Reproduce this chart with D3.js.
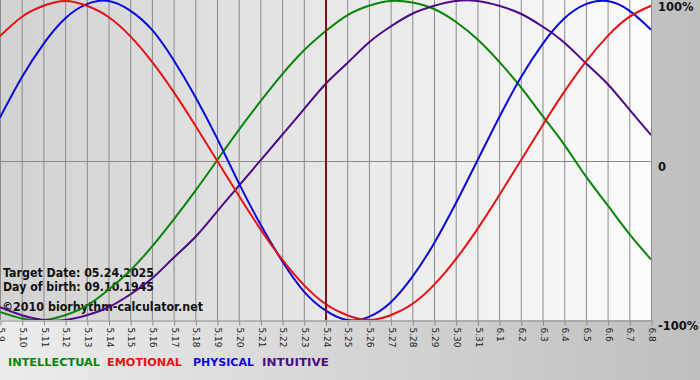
<!DOCTYPE html>
<html>
<head>
<meta charset="utf-8">
<script src="https://cdn.jsdelivr.net/npm/d3@7"></script>
<style>
  html, body { margin: 0; padding: 0; background: #fff; }
  svg { display: block; }
</style>
</head>
<body>
<div id="chart"></div>
<script>
// days shown, 5.9 .. 6.8
const days = ["5.9", "5.10", "5.11", "5.12", "5.13", "5.14", "5.15", "5.16", "5.17", "5.18", "5.19", "5.20", "5.21", "5.22", "5.23", "5.24",
  "5.25", "5.26", "5.27", "5.28", "5.29", "5.30", "5.31", "6.1", "6.2", "6.3", "6.4", "6.5", "6.6", "6.7", "6.8"];
const targetDay = "5.24";

// values, -1 .. 1
const physical = [0.27, 0.52, 0.73, 0.89, 0.98, 1.0, 0.94, 0.82, 0.63, 0.4, 0.14, -0.14, -0.4, -0.63, -0.82, -0.94,
  -1.0, -0.98, -0.89, -0.73, -0.52, -0.27, 0, 0.27, 0.52, 0.73, 0.89, 0.98, 1.0, 0.94, 0.82];
const emotional = [0.78, 0.9, 0.97, 1.0, 0.97, 0.9, 0.78, 0.62, 0.43, 0.22, 0, -0.22, -0.43, -0.62, -0.78, -0.9,
  -0.97, -1.0, -0.97, -0.9, -0.78, -0.62, -0.43, -0.22, 0, 0.22, 0.43, 0.62, 0.78, 0.9, 0.97];
const intellectual = [-0.95, -0.99, -1.0, -0.97, -0.91, -0.81, -0.69, -0.54, -0.37, -0.19, 0, 0.19, 0.37, 0.54, 0.69, 0.81,
  0.91, 0.97, 1.0, 0.99, 0.95, 0.87, 0.76, 0.62, 0.46, 0.28, 0.1, -0.1, -0.28, -0.46, -0.62];
const intuitive = [-0.92, -0.97, -1.0, -1.0, -0.97, -0.92, -0.84, -0.74, -0.61, -0.48, -0.32, -0.16, 0, 0.16, 0.32, 0.48,
  0.61, 0.74, 0.84, 0.92, 0.97, 1.0, 1.0, 0.97, 0.92, 0.84, 0.74, 0.61, 0.48, 0.32, 0.16];

const yTicks = [1, 0, -1];
const yTickLabels = ["100%", "0", "-100%"];

const seriesNames = ["INTELLECTUAL", "EMOTIONAL", "PHYSICAL", "INTUITIVE"];
const infoLines = ["Target Date: 05.24.2025", "Day of birth: 09.10.1945"];
const copyright = "©2010 biorhythm-calculator.net";

const colors = {
  INTELLECTUAL: "#0a850a",
  EMOTIONAL: "#e41212",
  PHYSICAL: "#0a0ad8",
  INTUITIVE: "#4e0a86",
};

const width = 700, height = 380,
  plotW = 651, plotTop = 1, plotBottom = 320;

const svg = d3.select("#chart").append("svg").attr("width", width).attr("height", height);

const defs = svg.append("defs");
const bg = defs.append("linearGradient").attr("id", "bg").attr("x1", 0).attr("x2", 1).attr("y1", 0).attr("y2", 0);
bg.append("stop").attr("offset", 0).attr("stop-color", "#ececec");
bg.append("stop").attr("offset", 1).attr("stop-color", "#bfbfbf");
const pg = defs.append("linearGradient").attr("id", "pg").attr("x1", 0).attr("x2", 1).attr("y1", 0).attr("y2", 0);
pg.append("stop").attr("offset", 0).attr("stop-color", "#d2d2d2");
pg.append("stop").attr("offset", 1).attr("stop-color", "#fcfcfc");
defs.append("clipPath").attr("id", "clip").append("rect").attr("x", 0).attr("y", 0).attr("width", plotW).attr("height", plotBottom);

svg.append("rect").attr("width", width).attr("height", height).attr("fill", "url(#bg)");
svg.append("rect").attr("x", 0).attr("y", 0).attr("width", plotW).attr("height", plotBottom).attr("fill", "url(#pg)");

const x = d3.scalePoint().domain(days).range([0, plotW]);
const y = d3.scaleLinear().domain([-1, 1]).range([plotBottom, plotTop]);

// grid
const grid = svg.append("g");
grid.selectAll("line.v").data(days).enter().append("line").attr("class", "v")
  .attr("x1", (d) => x(d) + 0.5).attr("x2", (d) => x(d) + 0.5)
  .attr("y1", 0).attr("y2", plotBottom)
  .attr("stroke", "#8a8a8a").attr("stroke-width", 1);
grid.append("line").attr("x1", 0).attr("x2", plotW).attr("y1", Math.round(y(0)) + 0.5).attr("y2", Math.round(y(0)) + 0.5)
  .attr("stroke", "#8a8a8a");

// bottom axis
const axis = svg.append("g").attr("transform", `translate(0.5,${plotBottom + 0.5})`)
  .call(d3.axisBottom(x).tickSize(5).tickSizeOuter(0));
axis.select(".domain").attr("stroke", "#8a8a8a");
axis.selectAll(".tick line").attr("stroke", "#8a8a8a");
axis.selectAll(".tick text")
  .attr("transform", "rotate(90)")
  .attr("text-anchor", "start")
  .attr("x", 7).attr("y", 0).attr("dy", "0.32em")
  .style("font-family", "Tahoma, 'DejaVu Sans', sans-serif")
  .style("font-size", "9px")
  .attr("fill", "#222");

// info texts
const info = svg.append("g").style("font-family", "'DejaVu Sans', sans-serif").style("font-weight", "bold").attr("fill", "#111");
info.selectAll("text").data(infoLines).enter().append("text")
  .attr("x", 3).attr("y", (d, i) => 277 + i * 14)
  .attr("font-size", 11.5)
  .attr("textLength", 151).attr("lengthAdjust", "spacingAndGlyphs")
  .text((d) => d);
info.append("text").attr("x", 2).attr("y", 311).attr("font-size", 12.5)
  .attr("textLength", 201).attr("lengthAdjust", "spacingAndGlyphs")
  .text(copyright);

// curves
const line = d3.line().x((d, i) => x(days[i])).y((d) => y(d)).curve(d3.curveNatural);
const curves = svg.append("g").attr("clip-path", "url(#clip)");
const seriesData = [intellectual, intuitive, physical, emotional];
const seriesKeys = ["INTELLECTUAL", "INTUITIVE", "PHYSICAL", "EMOTIONAL"];
curves.selectAll("path").data(seriesData).enter().append("path")
  .attr("d", line)
  .attr("fill", "none")
  .attr("stroke", (d, i) => colors[seriesKeys[i]])
  .attr("stroke-width", 2);

// target date line
svg.append("line")
  .attr("x1", x(targetDay) + 0.5).attr("x2", x(targetDay) + 0.5)
  .attr("y1", 0).attr("y2", plotBottom)
  .attr("stroke", "#7a1616").attr("stroke-width", 2);

// right labels
svg.append("g").selectAll("text").data(yTicks).enter().append("text")
  .attr("x", 658).attr("y", (d) => y(d) + 10)
  .style("font-family", "'DejaVu Sans', sans-serif").style("font-weight", "bold")
  .attr("font-size", 11.5).attr("fill", "#111")
  .text((d, i) => yTickLabels[i]);

// legend
const legendX = [8, 107, 193, 262], legendW = [92, 75, 61, 67];
svg.append("g").selectAll("text").data(seriesNames).enter().append("text")
  .attr("x", (d, i) => legendX[i]).attr("y", 366)
  .style("font-family", "'DejaVu Sans', sans-serif").style("font-weight", "bold")
  .attr("font-size", 11)
  .attr("textLength", (d, i) => legendW[i]).attr("lengthAdjust", "spacingAndGlyphs")
  .attr("fill", (d) => colors[d])
  .text((d) => d);
</script>
</body>
</html>
